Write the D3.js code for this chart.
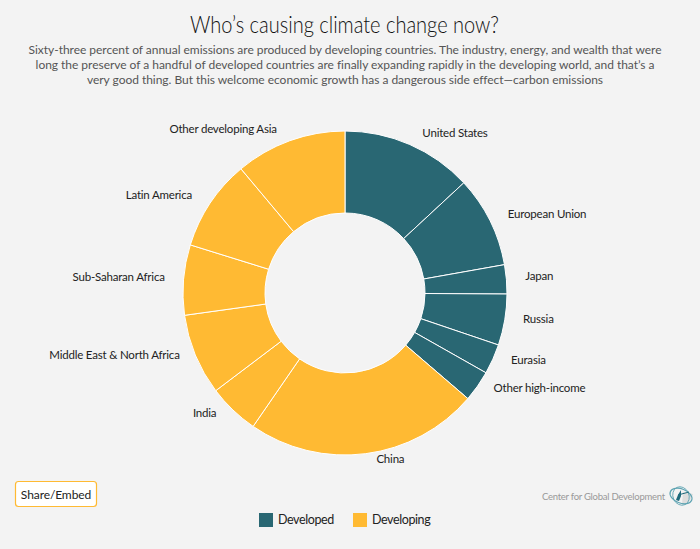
<!DOCTYPE html>
<html>
<head>
<meta charset="utf-8">
<script src="https://cdn.jsdelivr.net/npm/d3@7"></script>
<style>
  html, body { margin: 0; padding: 0; background: #f3f3f3; }
  svg { display: block; }
  text { font-family: Lato, sans-serif; }
</style>
</head>
<body>
<script>
const regions = ["United States", "European Union", "Japan", "Russia", "Eurasia", "Other high-income",
    "China", "India", "Middle East & North Africa", "Sub-Saharan Africa", "Latin America", "Other developing Asia"];
const shares = [13.1, 9.1, 2.9, 5.1, 3.0, 3.1, 23.3, 5.1, 8.1, 7.0, 9.1, 11.1];
const groups = ["Developed", "Developed", "Developed", "Developed", "Developed", "Developed",
    "Developing", "Developing", "Developing", "Developing", "Developing", "Developing"];
const legendGroups = ["Developed", "Developing"];
const groupColors = ["#296773", "#ffba33"];

const titleText = "Who\u2019s causing climate change now?";
const subtitleLines = [
    "Sixty-three percent of annual emissions are produced by developing countries. The industry, energy, and wealth that were",
    "long the preserve of a handful of developed countries are finally expanding rapidly in the developing world, and that\u2019s a",
    "very good thing. But this welcome economic growth has a dangerous side effect\u2014carbon emissions"
];

// labels sit on a ring around the pie, nudged like the original's collision-avoided ones
const labelNudges = [[34, 14], [32, 6], [5, -1], [6, -5], [10, -11], [39, -14],
    [21, -22], [-9, -17], [-55, -11], [-37, -1], [-28, 7], [-57, 15]];

const width = 700, height = 549;
const cx = 345, cy = 293, outerR = 162, innerR = 80, labelR = 190;

const svg = d3.select("body").append("svg")
    .attr("width", width)
    .attr("height", height);

// no Futura-like font here, so squeeze Lato to the original width
svg.append("text")
    .attr("x", 190).attr("y", 33)
    .attr("textLength", 309).attr("lengthAdjust", "spacingAndGlyphs")
    .attr("font-size", 23).attr("font-weight", 300)
    .attr("fill", "#111")
    .text(titleText);

svg.append("g").selectAll("text").data(subtitleLines).join("text")
    .attr("x", 345)
    .attr("y", (d, i) => 54 + i * 15)
    .attr("text-anchor", "middle")
    .attr("font-size", 12)
    .attr("letter-spacing", -0.03)
    .attr("fill", "#555")
    .text(d => d);

const color = d3.scaleOrdinal().domain(legendGroups).range(groupColors);

const pie = d3.pie().sort(null).value(d => d)(shares);
const arc = d3.arc().innerRadius(innerR).outerRadius(outerR);
const labelArc = d3.arc().innerRadius(labelR).outerRadius(labelR);

const chart = svg.append("g").attr("transform", `translate(${cx},${cy})`);

chart.selectAll("path").data(pie).join("path")
    .attr("d", arc)
    .attr("fill", (d, i) => color(groups[i]))
    .attr("stroke", "#fff")
    .attr("stroke-width", 1);

chart.selectAll("text").data(pie).join("text")
    .attr("x", (d, i) => labelArc.centroid(d)[0] + labelNudges[i][0])
    .attr("y", (d, i) => labelArc.centroid(d)[1] + labelNudges[i][1] + 4)
    .attr("text-anchor", "middle")
    .attr("font-size", 11.5)
    .attr("letter-spacing", -0.2)
    .attr("fill", "#222")
    .text((d, i) => regions[i]);

// share button
svg.append("rect")
    .attr("x", 15.5).attr("y", 481.5)
    .attr("width", 81).attr("height", 25).attr("rx", 3)
    .attr("fill", "#fff").attr("stroke", "#ffba33").attr("stroke-width", 1.2);
svg.append("text")
    .attr("x", 56).attr("y", 498.5)
    .attr("text-anchor", "middle")
    .attr("font-size", 12).attr("letter-spacing", -0.1).attr("fill", "#222")
    .text("Share/Embed");

// credit and little globe logo
svg.append("text")
    .attr("x", 665).attr("y", 500)
    .attr("text-anchor", "end")
    .attr("font-size", 9.5).attr("letter-spacing", -0.25).attr("fill", "#999")
    .text("Center for Global Development");
const logo = svg.append("g").attr("transform", "translate(681,496)").attr("fill", "none");
logo.append("path").attr("d", "M1,9 Q10,7 12,-2 L2,-4 Z").attr("fill", "#ddd").attr("stroke", "none");
logo.append("ellipse").attr("rx", 11.5).attr("ry", 7).attr("transform", "rotate(22)").attr("stroke", "#5da3b2").attr("stroke-width", 1.2);
logo.append("ellipse").attr("rx", 8).attr("ry", 9.5).attr("transform", "rotate(-25)").attr("stroke", "#5da3b2").attr("stroke-width", 0.8);
logo.append("path").attr("d", "M-5,4 Q-3,-2 0,-6 L0,0 L-2,5 Z").attr("fill", "#1f6a7c");
logo.append("path").attr("d", "M-3,-1 L8,-4").attr("stroke", "#1f6a7c").attr("stroke-width", 1);

// legend
const legendX = d3.scaleOrdinal().domain(legendGroups).range([259, 353]);
const legend = svg.append("g").selectAll("g").data(legendGroups).join("g")
    .attr("transform", d => `translate(${legendX(d)},513)`);
legend.append("rect")
    .attr("width", 14).attr("height", 14)
    .attr("fill", d => color(d));
legend.append("text")
    .attr("x", 19).attr("y", 11)
    .attr("font-size", 12.5).attr("letter-spacing", -0.4)
    .attr("fill", "#222")
    .text(d => d);
</script>
</body>
</html>
